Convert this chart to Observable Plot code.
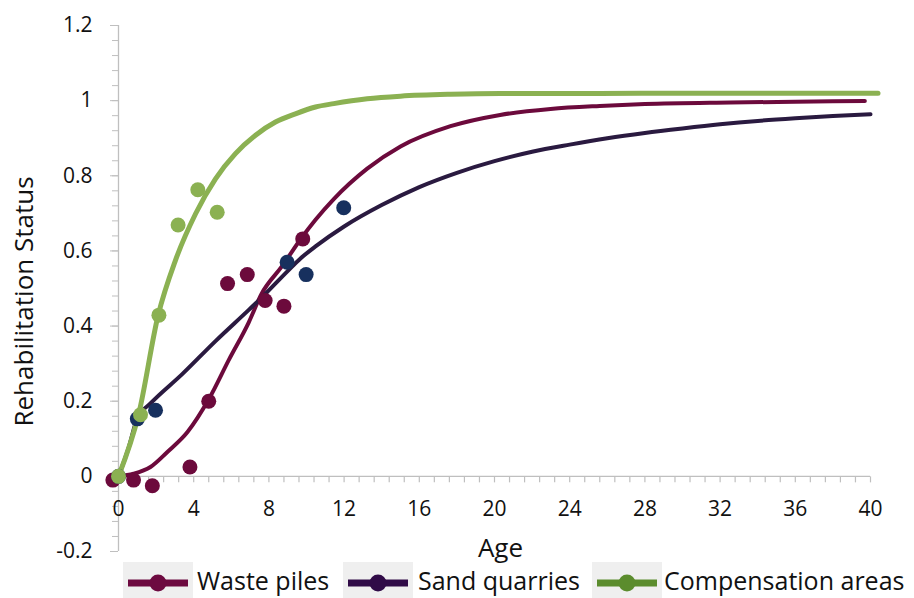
<!DOCTYPE html>
<html>
<head>
<meta charset="utf-8">
<script src="https://cdn.jsdelivr.net/npm/d3@7"></script>
<script src="https://cdn.jsdelivr.net/npm/@observablehq/plot@0.6"></script>
<style>
  body { margin: 0; background: #fff; font-family: "Open Sans", sans-serif; }
  #wrap { position: relative; width: 914px; height: 598px; overflow: hidden; background: #fff; }
  #chart { position: absolute; left: 0; top: 0; }
  #chart svg { overflow: visible; }
  #legend { position: absolute; left: 0; top: 562px; overflow: visible; }
</style>
</head>
<body>
<div id="wrap"><div id="chart"></div><svg id="legend" width="914" height="36"></svg></div>
<script>
// ---- data ----
const seriesNames = ["Waste piles", "Sand quarries", "Compensation areas"];

// observed points
const wasteDotX = [-0.3, 0.8, 1.8, 3.8, 4.8, 5.8, 6.85, 7.8, 8.8, 9.8];
const wasteDotY = [-0.01, -0.01, -0.025, 0.025, 0.20, 0.513, 0.537, 0.468, 0.453, 0.632];
const sandDotX = [0, 1.0, 1.97, 8.97, 9.98, 11.98];
const sandDotY = [0, 0.153, 0.176, 0.570, 0.537, 0.715];
const compDotX = [0, 1.17, 2.15, 3.17, 4.22, 5.25];
const compDotY = [0, 0.164, 0.429, 0.669, 0.763, 0.703];

// fitted curves
const wasteCurveX = [0, 0.8, 1.7, 2.6, 3.67, 4.8, 5.87, 6.93, 7.6, 8.71, 9.77, 10.48, 11.45, 13.23, 15, 17.66, 20.3, 22.98, 25.6, 28, 32.55, 36, 39.7];
const wasteCurveY = [0, 0.007, 0.025, 0.065, 0.118, 0.205, 0.31, 0.41, 0.485, 0.56, 0.637, 0.683, 0.738, 0.819, 0.878, 0.932, 0.962, 0.978, 0.986, 0.991, 0.995, 0.997, 0.999];
const sandCurveX = [0, 0.55, 1.0, 1.7, 3.39, 5.16, 6.93, 7.6, 8.97, 9.68, 10.48, 12, 14, 16, 18, 20, 22, 24, 26, 28, 30, 32, 34, 36, 38, 40];
const sandCurveY = [0, 0.078, 0.155, 0.194, 0.272, 0.36, 0.443, 0.475, 0.545, 0.58, 0.612, 0.665, 0.722, 0.77, 0.808, 0.839, 0.864, 0.883, 0.9, 0.914, 0.926, 0.937, 0.946, 0.953, 0.959, 0.964];
const compCurveX = [0, 1.08, 2.11, 3.03, 4.1, 5.16, 6.22, 7.29, 8.35, 9.41, 10.48, 11.45, 13.23, 15, 17.66, 20.3, 25.6, 30, 35, 40.4];
const compCurveY = [0, 0.167, 0.429, 0.575, 0.699, 0.792, 0.859, 0.908, 0.943, 0.965, 0.983, 0.992, 1.005, 1.012, 1.017, 1.019, 1.019, 1.02, 1.02, 1.02];

// axes
const xTicks = [0, 4, 8, 12, 16, 20, 24, 28, 32, 36, 40];
const yTicks = [-0.2, 0, 0.2, 0.4, 0.6, 0.8, 1, 1.2];
const xMinor = d3.range(0, 51).map(i => +(i * 0.8).toFixed(2)).filter(v => v <= 40);
const yMinor = d3.range(0, 36).map(i => +(-0.2 + i * 0.04).toFixed(2));

// ---- styling ----
const lineColors = ["#6c0a3c", "#2a1a40", "#8bb152"];
const dotColors = ["#6c0a3c", "#17305e", "#8bb152"];
const legendColors = ["#6d0a40", "#300b47", "#5b8c2d"];

const pts = (xs, ys) => xs.map((x, i) => ({x, y: ys[i]}));
const wasteCurve = pts(wasteCurveX, wasteCurveY);
const sandCurve = pts(sandCurveX, sandCurveY);
const compCurve = pts(compCurveX, compCurveY);
const wasteDots = pts(wasteDotX, wasteDotY);
const sandDots = pts(sandDotX, sandDotY);
const compDots = pts(compDotX, compDotY);

// downward tick symbol for the horizontal axis drawn at y = 0
const downTick = {draw(context) { context.moveTo(0, 0); context.lineTo(0, 6); }};

const axisGray = "#bfbfbf";
const chart = Plot.plot({
  width: 914,
  height: 562,
  marginLeft: 118,
  marginRight: 44,
  marginTop: 25,
  marginBottom: 11,
  x: {domain: [0, 40], axis: null},
  y: {domain: [-0.2, 1.2]},
  style: {fontFamily: "'Open Sans', sans-serif", background: "transparent", overflow: "visible"},
  marks: [
    Plot.ruleX([0], {y1: -0.2, y2: 1.2, stroke: axisGray, strokeWidth: 1.3}),
    Plot.ruleY([0], {x1: 0, x2: 40, stroke: axisGray, strokeWidth: 1.3}),
    Plot.axisY(yMinor, {tickSize: 6, stroke: axisGray, fill: "none", label: null, tickFormat: () => ""}),
    Plot.axisY(yTicks, {tickSize: 8, tickPadding: 18, stroke: axisGray, fill: "#111", fontSize: 21, label: null, tickFormat: d => String(d)}),
    Plot.dot(xMinor, {x: d => d, y: d => 0, symbol: downTick, stroke: axisGray, strokeWidth: 1.2, fill: "none"}),
    Plot.text(xTicks, {x: d => d, y: d => 0, dy: 33, text: d => String(d), fontSize: 21, fill: "#111"}),
    Plot.line(wasteCurve, {x: "x", y: "y", stroke: lineColors[0], strokeWidth: 4, curve: "monotone-x"}),
    Plot.line(sandCurve, {x: "x", y: "y", stroke: lineColors[1], strokeWidth: 4, curve: "monotone-x"}),
    Plot.line(compCurve, {x: "x", y: "y", stroke: lineColors[2], strokeWidth: 5, curve: "monotone-x"}),
    Plot.dot(wasteDots, {x: "x", y: "y", r: 7.5, fill: dotColors[0]}),
    Plot.dot(sandDots, {x: "x", y: "y", r: 7.5, fill: dotColors[1]}),
    Plot.dot(compDots, {x: "x", y: "y", r: 7.5, fill: dotColors[2]}),
    Plot.text(["Age"], {frameAnchor: "bottom", dx: 6, dy: 5, lineAnchor: "bottom", text: d => d, fontSize: 26, fill: "#111"}),
    Plot.text(["Rehabilitation Status"], {frameAnchor: "left", textAnchor: "middle", rotate: -90, dx: -94, dy: 13, text: d => d, fontSize: 26, fill: "#111"})
  ]
});
document.getElementById("chart").appendChild(chart);

// ---- legend (below the chart) ----
const legendItems = [
  {name: seriesNames[0], color: legendColors[0], box: 123, text: 197},
  {name: seriesNames[1], color: legendColors[1], box: 343, text: 418},
  {name: seriesNames[2], color: legendColors[2], box: 592, text: 664}
];
const leg = d3.select("#legend");
for (const it of legendItems) {
  leg.append("rect").attr("x", it.box).attr("y", 0).attr("width", 70).attr("height", 36).attr("fill", "#efefef");
  leg.append("line").attr("x1", it.box + 5).attr("x2", it.box + 65).attr("y1", 21).attr("y2", 21)
    .attr("stroke", it.color).attr("stroke-width", 7);
  leg.append("circle").attr("cx", it.box + 35).attr("cy", 21).attr("r", 8.5).attr("fill", it.color);
  leg.append("text").attr("x", it.text).attr("y", 28).attr("font-family", "'Open Sans', sans-serif")
    .attr("font-size", 25).attr("fill", "#111").text(it.name);
}
</script>
</body>
</html>
